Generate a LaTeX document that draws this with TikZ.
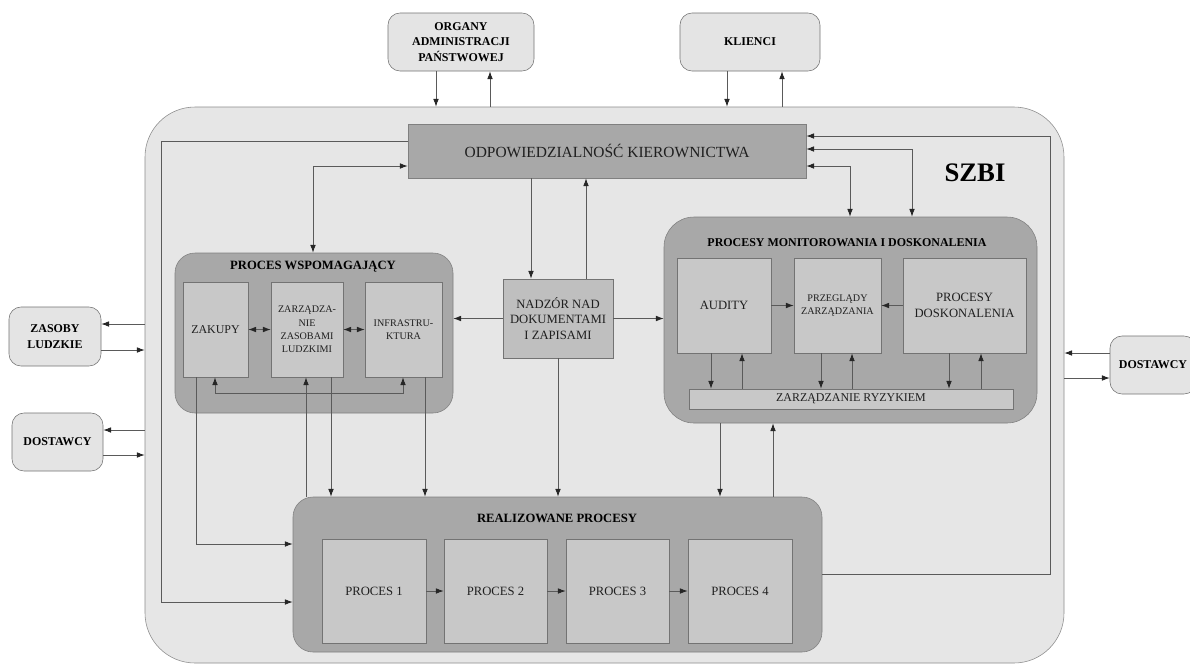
\documentclass[tikz,border=0pt]{standalone}
\usepackage{fontspec}
\setmainfont{Liberation Serif}
\usepackage{tikz}
\usetikzlibrary{arrows.meta}
\definecolor{szbigray}{HTML}{E6E6E6}
\definecolor{extgray}{HTML}{E4E4E4}
\definecolor{boxdark}{HTML}{A8A8A8}
\definecolor{boxmid}{HTML}{BFBFBF}
\definecolor{boxlight}{HTML}{C8C8C8}
\definecolor{linegray}{HTML}{5A5A5A}

\begin{document}
\begin{tikzpicture}[x=0.025cm, y=-0.025cm,
    wh/.style 2 args={minimum width=#1*0.025cm, minimum height=#2*0.025cm, inner sep=1pt},
    conn/.style={draw=linegray, line width=0.6pt},
    arr/.style={conn, -{Latex[length=5.5pt,width=4pt,color=black!85]}},
    arrs/.style={conn, {Latex[length=5.5pt,width=4pt,color=black!85]}-{Latex[length=5.5pt,width=4pt,color=black!85]}},
    szbibox/.style={draw=black!45, fill=szbigray, rounded corners=1.25cm},
    extbox/.style={draw=black!55, fill=extgray, rounded corners=0.3cm, align=center,
        font=\fontsize{8.5}{11.2}\selectfont\bfseries},
    group/.style={draw=black!50, fill=boxdark},
    inbox/.style={draw=black!55, fill=boxlight, align=center, text=black!88,
        font=\fontsize{8.5}{10.5}\selectfont},
    title/.style={font=\fontsize{9}{11}\selectfont\bfseries}]
    \path[use as bounding box, clip] (0,0) rectangle (1190,666);
    \fill[white] (0,0) rectangle (1190,666);

    % system frame
    \node[szbibox, wh={919}{556}] (szbi) at (604.5,385) {};
    \node[font=\fontsize{19}{22}\selectfont\bfseries] (szbilbl) at (975,173) {SZBI};

    % outside parties
    \node[extbox, wh={146}{58}] (organy) at (461,42) {ORGANY\\ADMINISTRACJI\\PAŃSTWOWEJ};
    \node[extbox, wh={140}{58}] (klienci) at (750,42) {KLIENCI};
    \node[extbox, wh={92}{59}] (zasoby) at (55,336.5) {ZASOBY\\LUDZKIE};
    \node[extbox, wh={91}{58}] (dostL) at (57.5,442) {DOSTAWCY};
    \node[extbox, wh={86}{58}] (dostR) at (1153,365) {DOSTAWCY};

    % management
    \node[group, wh={398}{54}, font=\fontsize{11}{13}\selectfont, text=black!88] (odp) at (607,151) {ODPOWIEDZIALNOŚĆ KIEROWNICTWA};
    \node[inbox, fill=boxmid, wh={110}{79}, font=\fontsize{9}{11}\selectfont] (nadzor) at (558,318.5) {NADZÓR NAD\\DOKUMENTAMI\\I ZAPISAMI};

    % supporting processes
    \node[group, rounded corners=0.5cm, wh={278}{160}] (pw) at (314,333) {};
    \node[title] (pwlbl) at (313,267) {PROCES WSPOMAGAJĄCY};
    \node[inbox, wh={65}{95}] (zakupy) at (215.5,329.5) {ZAKUPY};
    \node[inbox, wh={72}{95}, font=\fontsize{7.2}{9.5}\selectfont] (zzl) at (307,329.5) {ZARZĄDZA-\\NIE\\ZASOBAMI\\LUDZKIMI};
    \node[inbox, wh={77}{95}, font=\fontsize{7.2}{9.5}\selectfont] (infra) at (403.5,329.5) {INFRASTRU-\\KTURA};

    % monitoring
    \node[group, rounded corners=0.75cm, wh={373}{206}] (mon) at (850.5,320) {};
    \node[title, font=\fontsize{8.5}{10}\selectfont\bfseries] (monlbl) at (847,243) {PROCESY MONITOROWANIA I DOSKONALENIA};
    \node[inbox, wh={94}{95}, font=\fontsize{9}{11}\selectfont] (audyty) at (724,305.5) {AUDITY};
    \node[inbox, wh={87}{95}, font=\fontsize{7.2}{9.5}\selectfont] (przeg) at (837.5,305.5) {PRZEGLĄDY\\ZARZĄDZANIA};
    \node[inbox, wh={123}{95}, font=\fontsize{9}{11}\selectfont] (dosk) at (964.5,305.5) {PROCESY\\DOSKONALENIA};
    \node[inbox, wh={324}{20}, font=\fontsize{8.5}{10}\selectfont] (ryzyko) at (851,399) {ZARZĄDZANIE RYZYKIEM};

    % realised processes
    \node[group, rounded corners=0.5cm, wh={529}{155}] (real) at (557.5,574.5) {};
    \node[title] (reallbl) at (557,518) {REALIZOWANE PROCESY};
    \node[inbox, wh={104}{104}, font=\fontsize{9}{11}\selectfont] (p1) at (374,591) {PROCES 1};
    \node[inbox, wh={103}{104}, font=\fontsize{9}{11}\selectfont] (p2) at (495.5,591) {PROCES 2};
    \node[inbox, wh={103}{104}, font=\fontsize{9}{11}\selectfont] (p3) at (617.5,591) {PROCES 3};
    \node[inbox, wh={104}{104}, font=\fontsize{9}{11}\selectfont] (p4) at (740,591) {PROCES 4};

    % bends of the long loops
    \coordinate (loopL) at (161,141);
    \coordinate (loopR) at (1050,136);

    % outside parties <-> system
    \draw[arr] (organy.south -| 436,0) -- (szbi.north -| 436,0);
    \draw[arr] (szbi.north -| 490,0) -- (organy.south -| 490,0);
    \draw[arr] (klienci.south -| 727,0) -- (szbi.north -| 727,0);
    \draw[arr] (szbi.north -| 782,0) -- (klienci.south -| 782,0);
    \draw[arr] (szbi.west |- 0,324) -- (zasoby.east |- 0,324);
    \draw[arr] (zasoby.east |- 0,350) -- (szbi.west |- 0,350);
    \draw[arr] (szbi.west |- 0,430) -- (dostL.east |- 0,430);
    \draw[arr] (dostL.east |- 0,455) -- (szbi.west |- 0,455);
    \draw[arr] (dostR.west |- 0,353) -- (szbi.east |- 0,353);
    \draw[arr] (szbi.east |- 0,378) -- (dostR.west |- 0,378);

    % management links
    \draw[arr] (odp.south -| 531,0) -- (nadzor.north -| 531,0);
    \draw[arr] (nadzor.north -| 586,0) -- (odp.south -| 586,0);
    \draw[arrs] (pw.north -| 313,0) |- (odp.west |- 0,166);
    \draw[arr] (odp.west |- loopL) -- (loopL) |- (real.west |- 0,602);
    \draw[arr] (real.east |- 0,574) -| (loopR) -- (odp.east |- loopR);
    \draw[arrs] (odp.east |- 0,149) -| (mon.north -| 912,0);
    \draw[arrs] (odp.east |- 0,166) -| (mon.north -| 850,0);

    % document control
    \draw[arr] (nadzor.west) -- (pw.east |- nadzor.west);
    \draw[arr] (nadzor.east) -- (mon.west |- nadzor.east);
    \draw[arr] (nadzor.south) -- (real.north -| nadzor.south);

    % inside supporting processes
    \draw[arrs] (zakupy.east) -- (zzl.west);
    \draw[arrs] (zzl.east) -- (infra.west);
    \draw[arrs] (zakupy.south -| 215,0) -- ++(0,16) -| (infra.south -| 403,0);
    \draw[arr] (zakupy.south -| 196,0) |- (real.west |- 0,544);
    \draw[arr] (real.north -| 306,0) -- (zzl.south -| 306,0);
    \draw[arr] (zzl.south -| 331,0) -- (real.north -| 331,0);
    \draw[arr] (infra.south -| 425,0) -- (real.north -| 425,0);

    % inside monitoring
    \draw[arr] (audyty.east) -- (przeg.west);
    \draw[arr] (dosk.west) -- (przeg.east);
    \draw[arr] (audyty.south -| 711,0) -- (ryzyko.north -| 711,0);
    \draw[arr] (ryzyko.north -| 742,0) -- (audyty.south -| 742,0);
    \draw[arr] (przeg.south -| 821,0) -- (ryzyko.north -| 821,0);
    \draw[arr] (ryzyko.north -| 852,0) -- (przeg.south -| 852,0);
    \draw[arr] (dosk.south -| 949,0) -- (ryzyko.north -| 949,0);
    \draw[arr] (ryzyko.north -| 981,0) -- (dosk.south -| 981,0);
    \draw[arr] (mon.south -| 720,0) -- (real.north -| 720,0);
    \draw[arr] (real.north -| 773,0) -- (mon.south -| 773,0);

    % process chain
    \draw[arr] (p1) -- (p2);
    \draw[arr] (p2) -- (p3);
    \draw[arr] (p3) -- (p4);
\end{tikzpicture}
\end{document}
